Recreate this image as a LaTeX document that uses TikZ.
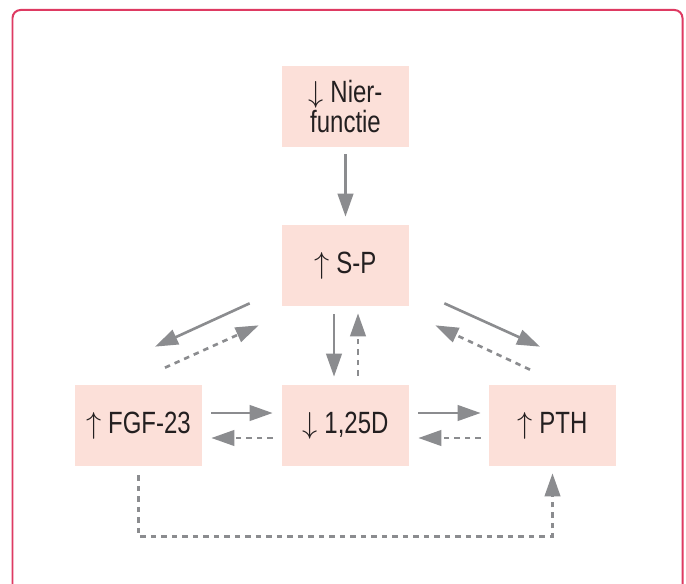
\documentclass[tikz,border=0pt]{standalone}
\usepackage{fontspec}
\newfontfamily\boxfont[FakeStretch=0.78]{Liberation Sans}
\usepackage{tikz}
\usetikzlibrary{arrows.meta}
\definecolor{framered}{RGB}{222,58,98}
\definecolor{boxpink}{RGB}{252,224,217}
\definecolor{arrowgray}{RGB}{139,140,143}
\definecolor{textdark}{RGB}{35,31,32}

\begin{document}
\begin{tikzpicture}[x=0.02cm, y=-0.02cm,
		node_style/.style={rectangle,fill=boxpink,minimum width=2.54cm,minimum height=1.62cm,inner sep=0pt,align=center,text=textdark,font=\boxfont\fontsize{17.5}{15}\selectfont},
		edge_style/.style={draw=arrowgray,line width=1.5pt,-{Triangle[length=0.46cm,width=0.31cm]}},
		dash_style/.style={edge_style,dash pattern=on 0.11cm off 0.1cm}]
		
		\useasboundingbox (0,0) rectangle (686,584);
		\draw[framered,line width=0.04cm,rounded corners=0.16cm] (12.5,600) -- (12.5,10) -- (682.5,10) -- (682.5,600);
		
		\node[node_style] (nier) at (345.5,106.5) {$\downarrow$ Nier-\\functie};
		\node[node_style] (sp) at (345.5,265.5) {$\uparrow$ S-P};
		\node[node_style] (fgf) at (138.5,425.5) {$\uparrow$ FGF-23};
		\node[node_style] (d) at (345.5,425.5) {$\downarrow$ 1,25D};
		\node[node_style] (pth) at (552.5,425.5) {$\uparrow$ PTH};
		
		\draw[edge_style,shorten <=0.14cm,shorten >=0.16cm] (nier) -- (sp);
		\draw[edge_style,shorten <=0.16cm,shorten >=0.16cm] ([xshift=-0.23cm]sp.south) -- ([xshift=-0.23cm]d.north);
		\draw[dash_style,shorten <=0.18cm,shorten >=0.14cm] ([xshift=0.25cm]d.north) -- ([xshift=0.25cm]sp.south);
		
		\draw[edge_style] ([shift={(-32,-3)}]sp.south west) -- ([shift={(16.5,-38)}]fgf.north);
		\draw[dash_style] ([shift={(26.5,-17)}]fgf.north) -- ([shift={(-23,19)}]sp.south west);
		\draw[edge_style] ([shift={(35,-3)}]sp.south east) -- ([shift={(-12.5,-38)}]pth.north);
		\draw[dash_style] ([shift={(-22.5,-15)}]pth.north) -- ([shift={(26,19)}]sp.south east);
		
		\draw[edge_style,shorten <=0.18cm,shorten >=0.18cm] ([yshift=0.25cm]fgf.east) -- ([yshift=0.25cm]d.west);
		\draw[dash_style,shorten <=0.18cm,shorten >=0.18cm] ([yshift=-0.25cm]d.west) -- ([yshift=-0.25cm]fgf.east);
		\draw[edge_style,shorten <=0.18cm,shorten >=0.16cm] ([yshift=0.25cm]d.east) -- ([yshift=0.25cm]pth.west);
		\draw[dash_style,shorten <=0.16cm,shorten >=0.18cm] ([yshift=-0.25cm]pth.west) -- ([yshift=-0.25cm]d.east);
		
		\draw[dash_style] ([shift={(0,9)}]fgf.south) -- ++(0,61) -| ([shift={(0,7)}]pth.south);
		
\end{tikzpicture}
\end{document}
